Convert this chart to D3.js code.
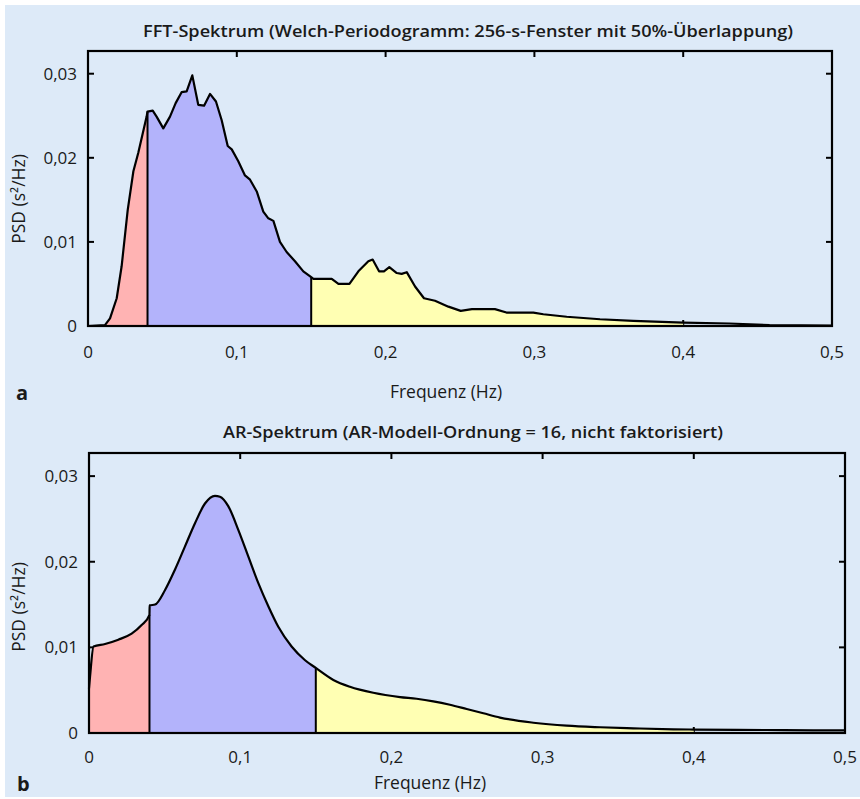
<!DOCTYPE html>
<html>
<head>
<meta charset="utf-8">
<script src="https://cdn.jsdelivr.net/npm/d3@7"></script>
<style>
  body { margin: 0; background: #fff; }
  text { font-family: "Open Sans", sans-serif; fill: #1a1a1a; }
</style>
</head>
<body>
<svg id="chart" width="860" height="799"></svg>
<script>
// FFT spectrum (Welch periodogram), [frequency in Hz, PSD in s^2/Hz]
const fftSpectrum = [
  [0, 0], [0.0114, 0.0001], [0.0148, 0.0009], [0.0193, 0.0033], [0.0226, 0.0071],
  [0.0267, 0.0138], [0.0305, 0.0184], [0.0338, 0.0206], [0.0394, 0.0249], [0.040, 0.0255],
  [0.0435, 0.0256], [0.0461, 0.0249], [0.0506, 0.0235], [0.0551, 0.0249], [0.0589, 0.0265],
  [0.0629, 0.0278], [0.0663, 0.0279], [0.0701, 0.0298], [0.0741, 0.0263], [0.0780, 0.0262],
  [0.0820, 0.0276], [0.0860, 0.0267], [0.0898, 0.0245], [0.0939, 0.0214], [0.0966, 0.0210],
  [0.1010, 0.0196], [0.1055, 0.0179], [0.1089, 0.0174], [0.1134, 0.0160], [0.1178, 0.0136],
  [0.1212, 0.0128], [0.1246, 0.0125], [0.1290, 0.0100], [0.1335, 0.0088], [0.1391, 0.0077],
  [0.1447, 0.0065], [0.150, 0.0058], [0.1515, 0.0056], [0.1638, 0.0056], [0.1683, 0.0050],
  [0.1757, 0.0050], [0.1817, 0.0065], [0.1884, 0.0077], [0.1913, 0.0079], [0.1956, 0.0065],
  [0.1989, 0.0065], [0.2025, 0.0070], [0.2075, 0.0063], [0.2108, 0.0062], [0.2142, 0.0064],
  [0.2198, 0.0047], [0.2258, 0.0033], [0.2332, 0.0030], [0.2422, 0.0023], [0.2505, 0.0018],
  [0.2580, 0.0020], [0.2735, 0.0020], [0.2812, 0.0016], [0.2993, 0.0016], [0.3060, 0.0014],
  [0.3217, 0.0011], [0.3441, 0.0008], [0.3665, 0.0006], [0.400, 0.0004], [0.431, 0.0003],
  [0.458, 0.0001], [0.500, 0.00005]
];

// AR spectrum (model order 16)
const arSpectrum = [
  [0, 0.0052], [0.0007, 0.0066], [0.003, 0.0101], [0.0106, 0.0104], [0.0194, 0.0109],
  [0.0282, 0.0116], [0.0348, 0.0126], [0.040, 0.0138], [0.0401, 0.0149], [0.0437, 0.0150],
  [0.0503, 0.0167], [0.0569, 0.0191], [0.0635, 0.0218], [0.0701, 0.0245], [0.0767, 0.0268],
  [0.0833, 0.0277], [0.0866, 0.0276], [0.0921, 0.0265], [0.0988, 0.0237], [0.1054, 0.0206],
  [0.1120, 0.0175], [0.1186, 0.0148], [0.1252, 0.0124], [0.1340, 0.0101], [0.1429, 0.0085],
  [0.150, 0.0076], [0.1616, 0.0062], [0.1726, 0.0054], [0.188, 0.0047], [0.2057, 0.0042],
  [0.2167, 0.0040], [0.2277, 0.0037], [0.2387, 0.0033], [0.2498, 0.0028], [0.2608, 0.0023],
  [0.2718, 0.0018], [0.2939, 0.0012], [0.3159, 0.00085], [0.338, 0.00067], [0.36, 0.00055],
  [0.3865, 0.00043], [0.4, 0.0004], [0.448, 0.00035], [0.479, 0.0003], [0.5, 0.0003]
];

// VLF / LF / HF band limits (Hz)
const bandEdges = [0, 0.04, 0.15, 0.4];
const xTicks = [0, 0.1, 0.2, 0.3, 0.4, 0.5];
const yTicks = [0, 0.01, 0.02, 0.03];
const yMax = 0.0327;

const titles = [
  "FFT-Spektrum (Welch-Periodogramm: 256-s-Fenster mit 50%-Überlappung)",
  "AR-Spektrum (AR-Modell-Ordnung = 16, nicht faktorisiert)"
];
const panelLetters = ["a", "b"];
const xLabel = "Frequenz (Hz)";
const yLabel = "PSD (s²/Hz)";

const bandColors = ["#ffb3b3", "#b3b3fb", "#ffffb3"];

const svg = d3.select("#chart");

svg.append("rect")
  .attr("x", 5).attr("y", 5)
  .attr("width", 855).attr("height", 792)
  .attr("fill", "#ddeaf8");

const fmt = (d) => (d === 0 ? "0" : String(d).replace(".", ","));

// linear interpolation of the spectrum at frequency f
function valueAt(data, f) {
  const i = d3.bisector((d) => d[0]).left(data, f);
  if (i < data.length && data[i][0] === f) return data[i][1];
  const a = data[i - 1], b = data[i];
  return a[1] + (b[1] - a[1]) * (f - a[0]) / (b[0] - a[0]);
}

function bandPoints(data, lo, hi) {
  const pts = data.filter((d) => d[0] >= lo && d[0] <= hi);
  if (pts[0][0] !== lo) pts.unshift([lo, valueAt(data, lo)]);
  if (pts[pts.length - 1][0] !== hi) pts.push([hi, valueAt(data, hi)]);
  return pts;
}

function drawPanel(p) {
  const x = d3.scaleLinear().domain([0, 0.5]).range([p.left, p.right]);
  const y = d3.scaleLinear().domain([0, yMax]).range([p.bottom, p.top]);
  const g = svg.append("g");
  const tickLen = 6;

  // inward ticks on all four sides
  const ticks = g.append("g").attr("stroke", "#000").attr("stroke-width", 2);
  xTicks.slice(1, -1).forEach((t) => {
    ticks.append("line").attr("x1", x(t)).attr("x2", x(t))
      .attr("y1", p.bottom).attr("y2", p.bottom - tickLen);
    ticks.append("line").attr("x1", x(t)).attr("x2", x(t))
      .attr("y1", p.top).attr("y2", p.top + tickLen);
  });
  yTicks.slice(1).forEach((t) => {
    ticks.append("line").attr("x1", p.left).attr("x2", p.left + tickLen)
      .attr("y1", y(t)).attr("y2", y(t));
    ticks.append("line").attr("x1", p.right).attr("x2", p.right - tickLen)
      .attr("y1", y(t)).attr("y2", y(t));
  });

  // coloured frequency bands
  const area = d3.area()
    .x((d) => x(d[0]))
    .y0(y(0))
    .y1((d) => y(d[1]))
    .curve(p.curve);
  for (let i = 0; i < bandEdges.length - 1; i++) {
    g.append("path")
      .datum(bandPoints(p.data, bandEdges[i], bandEdges[i + 1]))
      .attr("d", area)
      .attr("fill", bandColors[i]);
  }

  // band boundary lines
  bandEdges.slice(1, -1).forEach((f) => {
    g.append("line")
      .attr("x1", x(f)).attr("x2", x(f))
      .attr("y1", y(0)).attr("y2", y(valueAt(p.data, f)))
      .attr("stroke", "#000").attr("stroke-width", 2);
  });

  // spectrum line
  const line = d3.line()
    .x((d) => x(d[0]))
    .y((d) => y(d[1]))
    .curve(p.curve);
  g.append("path")
    .datum(p.data)
    .attr("d", line)
    .attr("fill", "none")
    .attr("stroke", "#000")
    .attr("stroke-width", 2.2)
    .attr("stroke-linejoin", "round");

  // frame
  g.append("rect")
    .attr("x", p.left).attr("y", p.top)
    .attr("width", p.right - p.left).attr("height", p.bottom - p.top)
    .attr("fill", "none").attr("stroke", "#000").attr("stroke-width", 2.2);

  // tick labels
  g.append("g").selectAll("text").data(xTicks).join("text")
    .attr("x", (d) => x(d)).attr("y", p.xTickY)
    .attr("text-anchor", "middle")
    .attr("font-size", 17)
    .text(fmt);
  g.append("g").selectAll("text").data(yTicks).join("text")
    .attr("x", p.left - 11).attr("y", (d) => y(d) + 6)
    .attr("text-anchor", "end")
    .attr("font-size", 17)
    .text(fmt);

  // titles and axis labels
  g.append("text")
    .attr("x", p.titleX).attr("y", p.titleY)
    .attr("text-anchor", "middle")
    .attr("font-size", 16).attr("font-weight", 600)
    .attr("textLength", p.titleW).attr("lengthAdjust", "spacingAndGlyphs")
    .text(p.title);
  g.append("text")
    .attr("x", p.xLabelX).attr("y", p.xLabelY)
    .attr("text-anchor", "middle")
    .attr("font-size", 17.5)
    .text(xLabel);
  g.append("text")
    .attr("transform", `translate(25,${p.yLabelY}) rotate(-90)`)
    .attr("text-anchor", "middle")
    .attr("font-size", 17.5)
    .text(yLabel);
  g.append("text")
    .attr("x", p.letterX).attr("y", p.letterY)
    .attr("font-size", 20).attr("font-weight", 700)
    .text(p.letter);
}

drawPanel({
  data: fftSpectrum, curve: d3.curveLinear,
  left: 88, right: 832, top: 51, bottom: 326,
  title: titles[0], titleX: 468, titleY: 37, titleW: 650,
  xTickY: 358, xLabelX: 446, xLabelY: 398, yLabelY: 199,
  letter: panelLetters[0], letterX: 16, letterY: 400
});

drawPanel({
  data: arSpectrum, curve: d3.curveMonotoneX,
  left: 89, right: 845, top: 453, bottom: 733,
  title: titles[1], titleX: 473, titleY: 438, titleW: 500,
  xTickY: 763, xLabelX: 430, xLabelY: 789, yLabelY: 607,
  letter: panelLetters[1], letterX: 17, letterY: 791
});
</script>
</body>
</html>
